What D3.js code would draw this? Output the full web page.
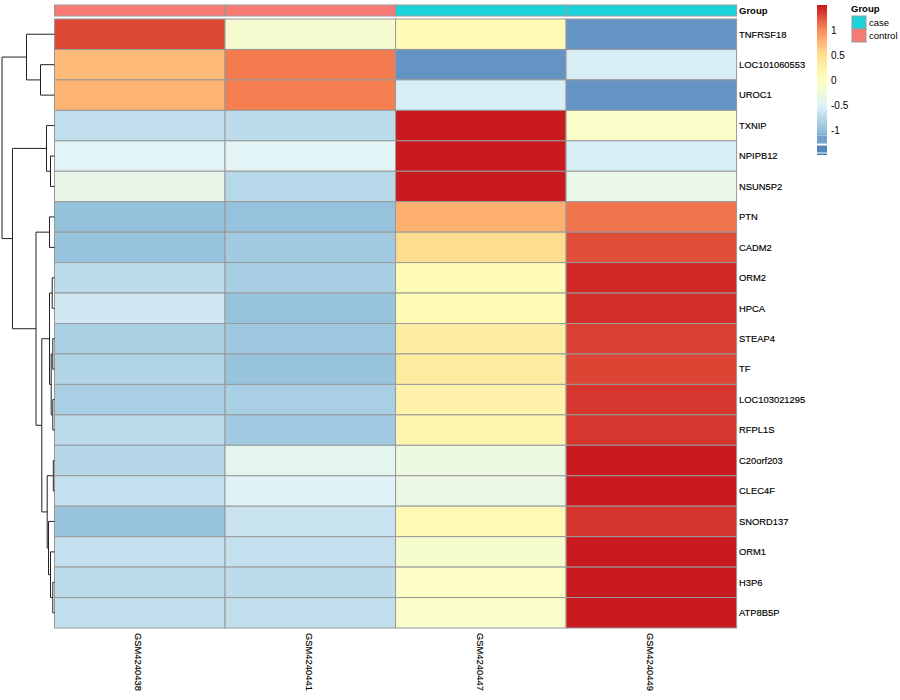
<!DOCTYPE html>
<html><head><meta charset="utf-8">
<script src="https://cdn.jsdelivr.net/npm/d3@7"></script>
<style>body{margin:0;background:#fff}</style>
</head><body><svg id="c" width="900" height="700"></svg>
<script>
// ---- data ----
const samples = ["GSM4240438","GSM4240441","GSM4240447","GSM4240449"];
const sampleGroups = ["control","control","case","case"];
const genes = ["TNFRSF18","LOC101060553","UROC1","TXNIP","NPIPB12","NSUN5P2","PTN","CADM2","ORM2","HPCA",
  "STEAP4","TF","LOC103021295","RFPL1S","C20orf203","CLEC4F","SNORD137","ORM1","H3P6","ATP8B5P"];
const col1 = [1.30, 0.73, 0.77,-0.70,-0.47,-0.37,-0.98,-0.96,-0.72,-0.61,-0.84,-0.80,-0.85,-0.74,-0.77,-0.68,-0.95,-0.68,-0.72,-0.70];
const col2 = [-0.15,1.08, 1.06,-0.72,-0.47,-0.76,-0.97,-0.89,-0.86,-0.96,-0.92,-0.96,-0.85,-0.90,-0.43,-0.50,-0.65,-0.68,-0.72,-0.70];
const col3 = [0.08,-1.29,-0.55, 1.49, 1.49, 1.49, 0.79, 0.52, 0.06, 0.07, 0.30, 0.33, 0.21, 0.18,-0.29,-0.32, 0.10,-0.13,-0.05,-0.09];
const col4 = [-1.28,-0.55,-1.29,-0.08,-0.55,-0.36,1.10, 1.27, 1.43, 1.41, 1.33, 1.31, 1.37, 1.37, 1.49, 1.49, 1.38, 1.49, 1.49, 1.49];
const groupNames = ["case","control"];
const groupColors = ["#1DD3DB","#F87A72"];
const paletteStops = [-1.5,-1,-0.5,0,0.5,1,1.5];
const paletteColors = ["#4575B4","#91BFDB","#E0F3F8","#FFFFBF","#FEE090","#FC8D59","#C8181E"];
const legendTicks = [-1,-0.5,0,0.5,1];
// row dendrogram: [mergeHeight, left, right]
const rowTree = [52.5,
  [28, "TNFRSF18", [14, "LOC101060553", "UROC1"]],
  [42,
    [8, "TXNIP", [4, "NPIPB12", "NSUN5P2"]],
    [18.5,
      [5, "PTN", "CADM2"],
      [12.7,
        [5, [2.3, "ORM2", "HPCA"], [3.3, [1.7, "STEAP4", "TF"], [1.7, "LOC103021295", "RFPL1S"]]],
        [7.3, [1.2, "C20orf203", "CLEC4F"], [6, "SNORD137", [4, "ORM1", [1.7, "H3P6", "ATP8B5P"]]]]
      ]
    ]
  ]
];

// ---- drawing ----
const svg = d3.select("#c");
const font = "'Liberation Sans', Arial, Helvetica, sans-serif";
const cols = [col1, col2, col3, col4];
const cells = [];
genes.forEach((g, i) => samples.forEach((s, j) => cells.push({gene: g, sample: s, v: cols[j][i]})));

const x = d3.scaleBand().domain(samples).range([54.5, 736.6]);
const y = d3.scaleBand().domain(genes).range([19, 628]);
const color = d3.scaleLinear().domain(paletteStops).range(paletteColors).interpolate(d3.interpolateRgb).clamp(true);
const grpColor = d3.scaleOrdinal().domain(groupNames).range(groupColors);

// heatmap cells
svg.append("g").selectAll("rect").data(cells).join("rect")
  .attr("x", d => x(d.sample)).attr("y", d => y(d.gene))
  .attr("width", x.bandwidth()).attr("height", y.bandwidth())
  .attr("fill", d => color(d.v)).attr("stroke", "#999").attr("stroke-width", 1);

// annotation bar
svg.append("g").selectAll("rect").data(samples).join("rect")
  .attr("x", d => x(d)).attr("y", 5).attr("width", x.bandwidth()).attr("height", 11)
  .attr("fill", (d, i) => grpColor(sampleGroups[i])).attr("stroke", "#999").attr("stroke-width", 1);
svg.append("text").attr("x", 739).attr("y", 11).attr("dy", "0.35em")
  .attr("font-family", font).attr("font-size", 9.5).attr("font-weight", "bold").text("Group");

// row labels
svg.append("g").selectAll("text").data(genes).join("text")
  .attr("x", 739).attr("y", d => y(d) + y.bandwidth() / 2).attr("dy", "0.35em")
  .attr("font-family", font).attr("font-size", 9.4).attr("fill", "#000")
  .attr("stroke", "#000").attr("stroke-width", 0.15).text(d => d);

// column labels
svg.append("g").selectAll("text").data(samples).join("text")
  .attr("transform", d => `translate(${x(d) + x.bandwidth() / 2 - 1},633) rotate(90)`)
  .attr("dy", "0.35em")
  .attr("font-family", font).attr("font-size", 9.4).attr("fill", "#000")
  .attr("stroke", "#000").attr("stroke-width", 0.15).text(d => d);

// dendrogram
const hx = d3.scaleLinear().domain([0, rowTree[0]]).range([54.5, 2]);
const dpath = d3.path();
function walk(node) {
  if (typeof node === "string") return {y: y(node) + y.bandwidth() / 2, h: 0};
  const a = walk(node[1]), b = walk(node[2]);
  const xm = hx(node[0]);
  dpath.moveTo(hx(a.h), a.y); dpath.lineTo(xm, a.y); dpath.lineTo(xm, b.y); dpath.lineTo(hx(b.h), b.y);
  return {y: (a.y + b.y) / 2, h: node[0]};
}
walk(rowTree);
svg.append("path").attr("d", dpath.toString()).attr("fill", "none")
  .attr("stroke", "#222").attr("stroke-width", 1);

// colour legend
const ly = d3.scaleLinear().domain([-1.5, 1.5]).range([154.5, 5]);
const lg = svg.append("g");
const steps = d3.range(0, 100).map(i => -1.5 + (i + 0.5) * 3 / 100);
const bottomCut = -1.1;
lg.selectAll("rect.s").data(steps.filter(v => v > bottomCut)).join("rect")
  .attr("x", 817).attr("width", 10)
  .attr("y", v => ly(v + 0.015)).attr("height", v => ly(v - 0.015) - ly(v + 0.015) + 0.5)
  .attr("fill", v => color(v));
const blocks = [[-1.28, -1.12], [-1.46, -1.32], [-1.51, -1.48]];
lg.selectAll("rect.b").data(blocks).join("rect")
  .attr("x", 817).attr("width", 10)
  .attr("y", d => ly(d[1])).attr("height", d => ly(d[0]) - ly(d[1]))
  .attr("fill", d => color((d[0] + d[1]) / 2));
lg.selectAll("text").data(legendTicks).join("text")
  .attr("x", 831).attr("y", d => ly(d) + 1).attr("dy", "0.35em")
  .attr("font-family", font).attr("font-size", 10).text(d => d);

// group legend
const gl = svg.append("g");
gl.append("text").attr("x", 851).attr("y", 9).attr("dy", "0.35em")
  .attr("font-family", font).attr("font-size", 9.5).attr("font-weight", "bold").text("Group");
gl.selectAll("rect").data(groupNames).join("rect")
  .attr("x", 852).attr("y", (d, i) => 16 + i * 13).attr("width", 14).attr("height", 13)
  .attr("fill", d => grpColor(d)).attr("stroke", "#999").attr("stroke-width", 1);
gl.selectAll("text.g").data(groupNames).join("text")
  .attr("x", 869).attr("y", (d, i) => 22.5 + i * 13.5).attr("dy", "0.35em")
  .attr("font-family", font).attr("font-size", 9.5).text(d => d);
</script></body></html>
